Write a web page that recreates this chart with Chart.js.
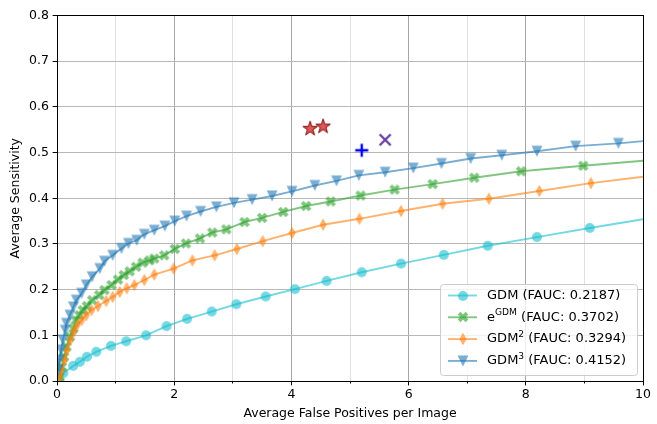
<!DOCTYPE html>
<html><head><meta charset="utf-8">
<script src="https://cdn.jsdelivr.net/npm/chart.js@4.4.0/dist/chart.umd.min.js"></script>
<style>html,body{margin:0;padding:0;background:#fff}#wrap{width:657px;height:424px}</style>
</head><body><div id="wrap"><canvas id="c" width="657" height="424"></canvas></div>
<script>
// ---- data ----
const gdmX  = [0.04, 0.107, 0.276, 0.39, 0.51, 0.67, 0.92, 1.18, 1.52, 1.87, 2.22, 2.64, 3.06, 3.56, 4.06, 4.60, 5.20, 5.87, 6.60, 7.35, 8.19, 9.09, 10];
const gdmY  = [0.002, 0.017, 0.033, 0.042, 0.053, 0.064, 0.077, 0.087, 0.100, 0.120, 0.136, 0.152, 0.168, 0.185, 0.201, 0.219, 0.238, 0.257, 0.276, 0.296, 0.315, 0.335, 0.354];
const egdmX = [0.04, 0.08, 0.12, 0.16, 0.22, 0.28, 0.32, 0.38, 0.44, 0.51, 0.60, 0.72, 0.81, 0.93, 1.04, 1.14, 1.24, 1.35, 1.46, 1.58, 1.66, 1.83, 2.01, 2.20, 2.44, 2.65, 2.89, 3.20, 3.50, 3.86, 4.25, 4.67, 5.18, 5.76, 6.41, 7.12, 7.92, 8.98, 10];
const egdmY = [0.009, 0.031, 0.053, 0.075, 0.097, 0.115, 0.133, 0.144, 0.155, 0.164, 0.177, 0.188, 0.199, 0.210, 0.222, 0.232, 0.240, 0.250, 0.259, 0.264, 0.268, 0.275, 0.289, 0.301, 0.312, 0.325, 0.332, 0.348, 0.357, 0.370, 0.383, 0.393, 0.406, 0.419, 0.431, 0.445, 0.459, 0.471, 0.482];
const gdm2X = [0.05, 0.08, 0.13, 0.17, 0.23, 0.29, 0.34, 0.42, 0.50, 0.59, 0.70, 0.84, 0.95, 1.07, 1.19, 1.32, 1.49, 1.66, 1.99, 2.31, 2.69, 3.07, 3.51, 4.01, 4.54, 5.16, 5.87, 6.58, 7.37, 8.23, 9.11, 10];
const gdm2Y = [0.006, 0.024, 0.046, 0.068, 0.090, 0.108, 0.122, 0.133, 0.144, 0.155, 0.164, 0.175, 0.184, 0.195, 0.203, 0.210, 0.221, 0.233, 0.246, 0.264, 0.275, 0.289, 0.306, 0.324, 0.342, 0.355, 0.372, 0.388, 0.399, 0.416, 0.433, 0.447];
const gdm3X = [0.02, 0.04, 0.07, 0.10, 0.14, 0.16, 0.22, 0.28, 0.33, 0.42, 0.50, 0.60, 0.73, 0.81, 0.95, 1.10, 1.22, 1.36, 1.49, 1.66, 1.84, 2.01, 2.21, 2.45, 2.72, 3.02, 3.33, 3.67, 4.01, 4.40, 4.77, 5.15, 5.60, 6.08, 6.56, 7.06, 7.59, 8.19, 8.85, 9.58, 10];
const gdm3Y = [0.024, 0.046, 0.068, 0.090, 0.111, 0.126, 0.144, 0.162, 0.177, 0.192, 0.210, 0.228, 0.246, 0.262, 0.275, 0.290, 0.301, 0.308, 0.321, 0.330, 0.339, 0.350, 0.361, 0.371, 0.381, 0.390, 0.397, 0.405, 0.415, 0.428, 0.438, 0.450, 0.457, 0.466, 0.476, 0.487, 0.494, 0.503, 0.514, 0.520, 0.525];
const starX  = [4.32, 4.54];
const starY  = [0.552, 0.557];
const plusX  = [5.20];
const plusY  = [0.505];
const crossX = [5.60];
const crossY = [0.528];

const seriesNames = ['GDM', 'e', 'GDM', 'GDM'];
const seriesSups  = ['', 'GDM', '2', '3'];
const seriesFauc  = ['0.2187', '0.3702', '0.3294', '0.4152'];
const xTickLabels = [0, 2, 4, 6, 8, 10];
const yTickLabels = ['0.0','0.1','0.2','0.3','0.4','0.5','0.6','0.7','0.8'];
const xTitle = 'Average False Positives per Image';
const yTitle = 'Average Sensitivity';

// ---- styles ----
const FONT = '"DejaVu Sans", sans-serif';
const FS = 12.5;
const LFS = 13;
const C_CYAN = 'rgba(23,190,207,0.6)';
const C_GREEN = 'rgba(44,160,44,0.6)';
const C_ORANGE = 'rgba(255,127,14,0.6)';
const C_BLUE = 'rgba(31,119,180,0.6)';

function pts(xs, ys){ return xs.map((x,i)=>({x:x, y:ys[i]})); }
function marker(size, draw){
  const c = document.createElement('canvas'); c.width = size; c.height = size;
  const g = c.getContext('2d'); g.translate(size/2, size/2); draw(g); return c;
}
const mCircle = marker(12, g => { g.fillStyle = C_CYAN; g.beginPath(); g.arc(0,0,5,0,Math.PI*2); g.fill(); });
const mX = marker(14, g => {
  const R = 5.6, w = 1.95;
  const p = [[-w,-R],[w,-R],[w,-w],[R,-w],[R,w],[w,w],[w,R],[-w,R],[-w,w],[-R,w],[-R,-w],[-w,-w]];
  g.rotate(Math.PI/4); g.fillStyle = C_GREEN; g.beginPath();
  p.forEach((q,i)=> i? g.lineTo(q[0],q[1]) : g.moveTo(q[0],q[1])); g.closePath(); g.fill();
});
const mDiamond = marker(14, g => {
  g.fillStyle = C_ORANGE; g.beginPath(); g.moveTo(0,-6.2); g.lineTo(3.7,0); g.lineTo(0,6.2); g.lineTo(-3.7,0); g.closePath(); g.fill();
});
const mTri = marker(14, g => {
  const r = 5.4; g.fillStyle = C_BLUE; g.beginPath(); g.moveTo(-r,-r); g.lineTo(r,-r); g.lineTo(0,r); g.closePath(); g.fill();
});
const mStar = marker(18, g => {
  const R = 7.6, r = R*0.382; g.beginPath();
  for (let i=0;i<10;i++){ const a = -Math.PI/2 + i*Math.PI/5; const rr = i%2? r : R; const px = rr*Math.cos(a), py = rr*Math.sin(a); i? g.lineTo(px,py) : g.moveTo(px,py); }
  g.closePath(); g.fillStyle = 'rgba(214,39,40,0.78)'; g.fill(); g.strokeStyle = '#7a0b0b'; g.lineWidth = 1; g.stroke();
});
const mPlus = marker(16, g => {
  g.strokeStyle = '#0000f0'; g.lineWidth = 2.4; g.beginPath(); g.moveTo(-6.5,0); g.lineTo(6.5,0); g.moveTo(0,-6.5); g.lineTo(0,6.5); g.stroke();
});
const mCross = marker(16, g => {
  g.strokeStyle = '#6b3fa0'; g.lineWidth = 2.4; g.beginPath(); g.moveTo(-5.5,-5.5); g.lineTo(5.5,5.5); g.moveTo(-5.5,5.5); g.lineTo(5.5,-5.5); g.stroke();
});

function series(data, color, img, order){
  return { data: data, showLine: true, borderColor: color, backgroundColor: color, borderWidth: 1.9,
    tension: 0, order: order, pointStyle: img,
    pointRadius: ctx => (ctx.raw && ctx.raw.x >= 10) ? 0 : 5, pointHoverRadius: 5 };
}
function single(data, img){
  return { data: data, showLine: false, pointStyle: img, pointRadius: 6, order: 0, clip: false };
}

function alignPx(v){ return Math.round(v - 0.5) + 0.5; }

const framePlugin = {
  id: 'frame',
  afterDraw(chart){
    const ctx = chart.ctx, a = chart.chartArea, xs = chart.scales.x, ys = chart.scales.y;
    ctx.save();
    ctx.strokeStyle = '#000'; ctx.lineWidth = 1;
    ctx.beginPath();
    for (let v = 0; v <= 10; v++){
      const px = alignPx(xs.getPixelForValue(v)); const len = v % 2 === 0 ? 4.4 : 2.5;
      ctx.moveTo(px, a.bottom); ctx.lineTo(px, a.bottom + len);
    }
    for (let i = 0; i < yTickLabels.length; i++){
      const py = alignPx(ys.getPixelForValue(parseFloat(yTickLabels[i])));
      ctx.moveTo(a.left, py); ctx.lineTo(a.left - 4.4, py);
    }
    ctx.stroke();
    const l = alignPx(a.left), r = alignPx(a.right), t = alignPx(a.top), b = alignPx(a.bottom);
    ctx.strokeRect(l, t, r - l, b - t);

    // legend
    const colors = [C_CYAN, C_GREEN, C_ORANGE, C_BLUE];
    const imgs = [mCircle, mX, mDiamond, mTri];
    const bw = 197, bh = 91;
    const bx = a.right - 6 - bw, by = a.bottom - 6 - bh;
    ctx.beginPath();
    ctx.roundRect(bx + 0.5, by + 0.5, bw, bh, 3);
    ctx.fillStyle = 'rgba(255,255,255,0.8)'; ctx.fill();
    ctx.strokeStyle = '#cccccc'; ctx.lineWidth = 1; ctx.stroke();
    for (let i = 0; i < 4; i++){
      const cy = by + 11.5 + i * 21.8;
      ctx.strokeStyle = colors[i]; ctx.lineWidth = 1.9;
      ctx.beginPath(); ctx.moveTo(bx + 8, cy); ctx.lineTo(bx + 37, cy); ctx.stroke();
      ctx.drawImage(imgs[i], Math.round(bx + 22.5 - imgs[i].width/2), Math.round(cy - imgs[i].height/2));
      let tx = bx + 47;
      ctx.fillStyle = '#000'; ctx.textBaseline = 'middle'; ctx.textAlign = 'left';
      ctx.font = LFS + 'px ' + FONT;
      ctx.fillText(seriesNames[i], tx, cy); tx += ctx.measureText(seriesNames[i]).width;
      if (seriesSups[i]){
        ctx.font = (LFS*0.7) + 'px ' + FONT;
        ctx.fillText(seriesSups[i], tx, cy - 4.7); tx += ctx.measureText(seriesSups[i]).width;
        ctx.font = LFS + 'px ' + FONT;
      }
      ctx.fillText(' (FAUC: ' + seriesFauc[i] + ')', tx, cy);
    }
    ctx.restore();
  }
};

new Chart(document.getElementById('c'), {
  type: 'scatter',
  data: { datasets: [
    series(pts(gdmX, gdmY), C_CYAN, mCircle, 4),
    series(pts(egdmX, egdmY), C_GREEN, mX, 3),
    series(pts(gdm2X, gdm2Y), C_ORANGE, mDiamond, 2),
    series(pts(gdm3X, gdm3Y), C_BLUE, mTri, 1),
    single(pts(starX, starY), mStar),
    single(pts(plusX, plusY), mPlus),
    single(pts(crossX, crossY), mCross)
  ]},
  options: {
    responsive: false, animation: false, events: [],
    layout: { padding: { top: 15, right: 10, left: 0, bottom: 0 } },
    plugins: { legend: { display: false }, tooltip: { enabled: false } },
    scales: {
      x: { type: 'linear', min: 0, max: 10,
        ticks: { stepSize: 1, autoSkip: false, maxRotation: 0, padding: 6, color: '#000',
          font: { family: FONT, size: FS },
          callback: v => xTickLabels.includes(v) ? String(v) : '' },
        grid: { color: c => (c.tick && c.tick.value % 2 === 0) ? '#a6a6a6' : '#e0e0e0', lineWidth: 1, drawTicks: false },
        border: { display: false },
        title: { display: true, text: xTitle, color: '#000', font: { family: FONT, size: FS }, padding: { top: 0, bottom: 3 } },
        afterFit: s => { s.height = 43; } },
      y: { min: 0, max: 0.8,
        ticks: { stepSize: 0.1, padding: 8, color: '#000', font: { family: FONT, size: FS },
          callback: v => yTickLabels[Math.round(v * 10)] },
        grid: { color: '#b8b8b8', lineWidth: 1, drawTicks: false },
        border: { display: false },
        title: { display: true, text: yTitle, color: '#000', font: { family: FONT, size: FS }, padding: { top: 8, bottom: 0 } },
        afterFit: s => { s.width = 57; } }
    }
  },
  plugins: [framePlugin]
});
</script>
</body></html>
